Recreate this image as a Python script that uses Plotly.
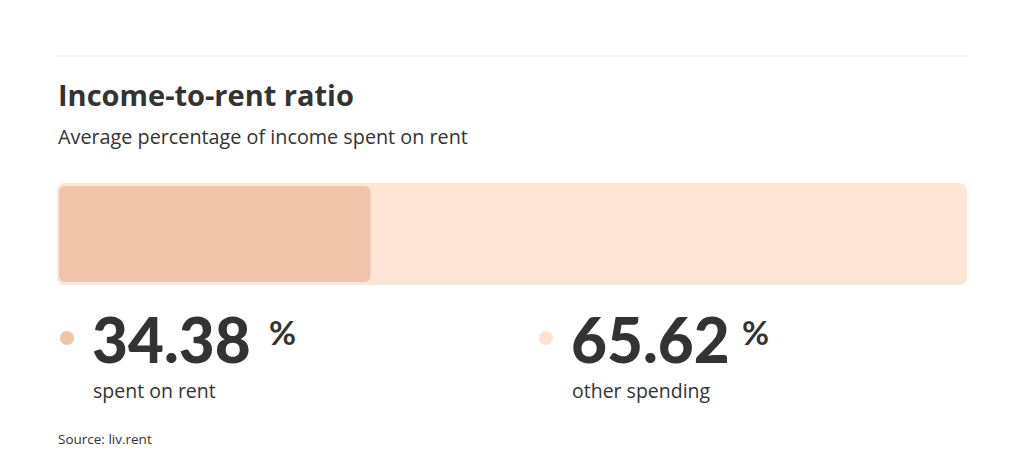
import plotly.graph_objects as go

# ---- data ----
categories = ["spent on rent", "other spending"]
shares = [34.38, 65.62]
title_text = "Income-to-rent ratio"
subtitle_text = "Average percentage of income spent on rent"
source_text = "Source: liv.rent"

# page body has an 8px margin; figure sized to fit the window
OFF = 8
W, H = 1024 - 2 * OFF, 474 - 2 * OFF
RENT_COLOR = "#F0C4AB"
OTHER_COLOR = "#FFE5D6"
TEXT = "#333333"

BAR_X0, BAR_X1 = 57, 967      # outer track pixels
INSET = 2                     # inner bar inset in pixels


def px(x):
    return (x - OFF) / W


def py(y):
    return 1 - (y - OFF) / H


total = sum(shares)
unit = total / (BAR_X1 - BAR_X0 - 2 * INSET)   # data units per pixel
pad = INSET * unit


def rounded_bar(start, value, width, color, radius):
    """Bar drawn as two halves from its midpoint (both ends rounded) plus an
    unrounded middle piece hiding the seam."""
    half = value / 2
    mid = start + half
    traces = []
    for sign in (1, -1):
        traces.append(go.Bar(
            y=["ratio"], x=[sign * half], base=[mid], orientation="h", width=width,
            marker=dict(color=color, line=dict(width=0), cornerradius=radius),
            hoverinfo="skip", showlegend=False,
        ))
    traces.append(go.Bar(
        y=["ratio"], x=[half], base=[mid - half / 2], orientation="h", width=width,
        marker=dict(color=color, line=dict(width=0)),
        hoverinfo="skip", showlegend=False,
    ))
    return traces


fig = go.Figure()
for t in rounded_bar(-pad, total + 2 * pad, 1.0, OTHER_COLOR, 8):
    fig.add_trace(t)
for t in rounded_bar(0, shares[0], 0.94, RENT_COLOR, 6):
    fig.add_trace(t)

fig.update_layout(
    width=W, height=H,
    margin=dict(l=0, r=0, t=0, b=0),
    paper_bgcolor="white", plot_bgcolor="white",
    barmode="overlay",
    xaxis=dict(range=[-pad, total + pad], domain=[px(BAR_X0), px(BAR_X1)],
               visible=False, fixedrange=True),
    yaxis=dict(range=[-0.5, 0.5], domain=[py(285), py(183)], visible=False, fixedrange=True),
    showlegend=False,
)

anns = []
anns.append(dict(text=title_text, x=px(56), y=py(94), xref="paper", yref="paper",
                 xanchor="left", yanchor="middle", showarrow=False,
                 font=dict(family="Open Sans", size=29, color=TEXT, weight="bold")))
anns.append(dict(text=subtitle_text, x=px(56), y=py(136), xref="paper", yref="paper",
                 xanchor="left", yanchor="middle", showarrow=False,
                 font=dict(family="Open Sans", size=19.8, color=TEXT)))

dot_colors = [RENT_COLOR, "#FFE2D3"]
col_x = [93, 572]
shapes = [dict(type="line", xref="paper", yref="paper", x0=px(57), x1=px(967),
               y0=py(56), y1=py(56), line=dict(color="#EFEFEF", width=1))]
for i, (cat, val) in enumerate(zip(categories, shares)):
    x0 = col_x[i]
    anns.append(dict(text=f"{val:.2f}", x=px(x0 - 3), y=py(339), xref="paper", yref="paper",
                     xanchor="left", yanchor="middle", showarrow=False,
                     font=dict(family="Lato", size=62, color=TEXT, weight=900)))
    anns.append(dict(text=cat, x=px(x0 - 2), y=py(390), xref="paper", yref="paper",
                     xanchor="left", yanchor="middle", showarrow=False,
                     font=dict(family="Open Sans", size=19.5, color=TEXT)))
    shapes.append(dict(type="circle", xref="paper", yref="paper",
                       x0=px(col_x[i] - 33), x1=px(col_x[i] - 19),
                       y0=py(345), y1=py(331),
                       line=dict(width=0), fillcolor=dot_colors[i]))

pct_x = [267, 740]
for i in range(2):
    anns.append(dict(text="%", x=px(pct_x[i]), y=py(332), xref="paper", yref="paper",
                     xanchor="left", yanchor="middle", showarrow=False,
                     font=dict(family="Lato", size=33, color=TEXT, weight="bold")))

anns.append(dict(text=source_text, x=px(56), y=py(439), xref="paper", yref="paper",
                 xanchor="left", yanchor="middle", showarrow=False,
                 font=dict(family="Open Sans", size=13.5, color=TEXT)))

fig.update_layout(annotations=anns, shapes=shapes)
fig.write_html("out.html")
